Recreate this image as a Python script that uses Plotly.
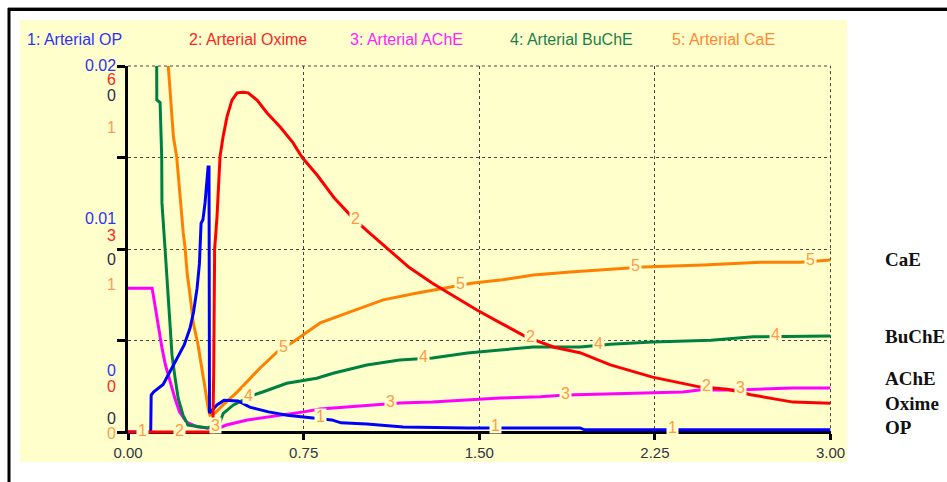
import numpy as np
import plotly.graph_objects as go

W, H = 947, 482

# ---------------- data ----------------
t_op = [0, 0.097, 0.099, 0.11, 0.15, 0.16, 0.19, 0.21, 0.24, 0.265, 0.28, 0.295, 0.305, 0.312,
        0.32, 0.329, 0.333, 0.338, 0.342, 0.346, 0.348, 0.38, 0.41, 0.47, 0.52, 0.60, 0.68, 0.75,
        0.87, 0.91, 1.02, 1.175, 1.45, 1.93, 1.95, 3.0]
op = [0, 0, 0.00202, 0.0022, 0.0026, 0.00284, 0.00356, 0.00404, 0.00476, 0.00568, 0.00656,
      0.00786, 0.0092, 0.0114, 0.0116, 0.01252, 0.01306, 0.01416, 0.01448, 0.01448, 0.00104,
      0.00148, 0.00174, 0.0017, 0.00136, 0.0011, 0.00092, 0.00082, 0.00066, 0.0005, 0.00044,
      0.00028, 0.00022, 0.00022, 0.00012, 0.00012]

t_oxime = [0, 0.362, 0.366, 0.370, 0.380, 0.385, 0.393, 0.406, 0.423, 0.444, 0.466, 0.491, 0.513,
           0.551, 0.594, 0.650, 0.705, 0.744, 0.81, 0.88, 0.96, 1.02, 1.12, 1.20, 1.30, 1.37,
           1.49, 1.59, 1.70, 1.82, 1.93, 2.06, 2.24, 2.44, 2.56, 2.66, 2.84, 3.0]
oxime = [0, 0, 0.98, 3.0, 3.52, 4.01, 4.51, 4.84, 5.17, 5.44, 5.56, 5.57, 5.56, 5.44, 5.23, 5.0,
         4.74, 4.5, 4.2, 3.84, 3.51, 3.3, 2.97, 2.7, 2.44, 2.28, 2.0, 1.79, 1.56, 1.39, 1.3, 1.1,
         0.9, 0.74, 0.7, 0.61, 0.49, 0.47]

t_ache = [0, 0.103, 0.115, 0.13, 0.145, 0.16, 0.18, 0.20, 0.22, 0.25, 0.295, 0.34, 0.39, 0.42,
          0.51, 0.60, 0.75, 0.82, 0.92, 1.02, 1.16, 1.30, 1.45, 1.59, 1.76, 1.87, 2.04, 2.20,
          2.37, 2.44, 2.60, 2.84, 3.0]
ache = [0.393, 0.393, 0.347, 0.284, 0.23, 0.183, 0.137, 0.093, 0.055, 0.027, 0.014, 0.011, 0.011,
        0.019, 0.033, 0.041, 0.055, 0.063, 0.068, 0.074, 0.079, 0.082, 0.087, 0.093, 0.096, 0.101,
        0.104, 0.107, 0.109, 0.115, 0.115, 0.12, 0.12]

t_buche = [0, 0.122, 0.123, 0.137, 0.144, 0.145, 0.158, 0.167, 0.179, 0.188, 0.201, 0.214, 0.235,
           0.256, 0.34, 0.393, 0.407, 0.45, 0.479, 0.536, 0.578, 0.678, 0.806, 0.88, 1.02, 1.16,
           1.30, 1.45, 1.59, 1.73, 1.93, 2.06, 2.24, 2.49, 2.67, 2.84, 3.0]
buche = [2.0, 1.1, 0.907, 0.9, 0.751, 0.626, 0.503, 0.41, 0.292, 0.21, 0.148, 0.093, 0.046, 0.019,
         0.011, 0.028, 0.051, 0.074, 0.083, 0.101, 0.11, 0.133, 0.147, 0.161, 0.183, 0.197, 0.202,
         0.216, 0.224, 0.232, 0.232, 0.24, 0.246, 0.251, 0.26, 0.262, 0.262]

t_cae = [0, 0.170, 0.172, 0.179, 0.187, 0.194, 0.208, 0.215, 0.222, 0.229, 0.236, 0.244, 0.252,
         0.265, 0.278, 0.299, 0.316, 0.329, 0.342, 0.350, 0.372, 0.406, 0.466, 0.509, 0.564,
         0.637, 0.705, 0.765, 0.821, 0.949, 1.09, 1.235, 1.346, 1.474, 1.59, 1.731, 1.889, 2.03,
         2.201, 2.457, 2.701, 2.872, 3.0]
cae = [2.0, 1.1, 1.0, 0.934, 0.88, 0.806, 0.751, 0.697, 0.653, 0.587, 0.544, 0.503, 0.437, 0.374,
       0.301, 0.238, 0.175, 0.12, 0.066, 0.046, 0.052, 0.074, 0.109, 0.137, 0.175, 0.219, 0.246,
       0.273, 0.298, 0.328, 0.361, 0.380, 0.393, 0.407, 0.415, 0.429, 0.437, 0.443, 0.451, 0.456,
       0.464, 0.464, 0.47]

series_names = ["1: Arterial OP", "2: Arterial Oxime", "3: Arterial AChE",
                "4: Arterial BuChE", "5: Arterial CaE"]
right_names = ["CaE", "BuChE", "AChE", "Oxime", "OP"]
x_ticks = [0, 0.75, 1.5, 2.25, 3.0]
x_ticktext = ["0.00", "0.75", "1.50", "2.25", "3.00"]
scale_max = [0.02, 6, 1, 1, 1]
# scale labels per series at top / middle / bottom of the axis
scale_labels_top = ["0.02", "6", "0", "1"]
scale_labels_mid = ["0.01", "3", "0", "1"]
scale_labels_bot = ["0", "0", "0", "0"]
# positions (t) of the curve number labels
label_t = [[0.064, 0.821, 1.569, 2.325],
           [0.222, 0.970, 1.718, 2.470],
           [0.372, 1.120, 1.868, 2.615],
           [0.513, 1.260, 2.010, 2.765],
           [0.662, 1.419, 2.167, 2.915]]

# ---------------- styling ----------------
line_colors = ["#0000FF", "#FF0000", "#FF00FF", "#008040", "#FF8000"]
text_colors = ["#3030FF", "#FF2424", "#FF22FF", "#1A8048", "#FF8833"]
label_color = "#FF9944"
bg_yellow = "#FFFFCC"
SANS = "Liberation Sans, Arial, sans-serif"
SERIF = "Liberation Serif, Times New Roman, serif"

def px(x):
    return x / W

def py(y):
    return 1 - y / H

x_dom = [px(128), px(830.5)]
pad = 0.006
y_dom = [py(432 + pad * 366), py(66)]

series_t = [t_op, t_oxime, t_ache, t_buche, t_cae]
series_v = [op, oxime, ache, buche, cae]
yaxes = ["y2", "y3", "y", "y", "y"]

fig = go.Figure()
for i in range(5):
    fig.add_trace(go.Scatter(
        x=series_t[i], y=series_v[i], yaxis=yaxes[i], mode="lines",
        line=dict(color=line_colors[i], width=3), name=series_names[i],
        hoverinfo="skip"))

dotted = dict(color="#444444", width=1, dash="dot")
shapes = [
    dict(type="rect", xref="paper", yref="paper", x0=px(20), x1=px(847), y0=py(462), y1=py(20),
         fillcolor=bg_yellow, line=dict(width=0), layer="below"),
    dict(type="line", xref="paper", yref="paper", x0=px(8), x1=1, y0=py(7.5), y1=py(7.5),
         line=dict(color="#999999", width=1), layer="below"),
    dict(type="line", xref="paper", yref="paper", x0=px(8), x1=1, y0=py(9.5), y1=py(9.5),
         line=dict(color="black", width=3), layer="below"),
    dict(type="line", xref="paper", yref="paper", x0=px(9), x1=px(9), y0=0, y1=py(8),
         line=dict(color="black", width=3), layer="below"),
    # top and right plot-frame dotted lines
    dict(type="line", xref="x domain", yref="y domain", x0=0, x1=1, y0=1, y1=1,
         line=dotted, layer="below"),
    dict(type="line", xref="x domain", yref="y domain", x0=1, x1=1, y0=0, y1=1,
         line=dotted, layer="below"),
]

annotations = []
# header legend texts
head_x = [25, 187, 348, 508, 670]
for i in range(5):
    annotations.append(dict(xref="paper", yref="paper", x=px(head_x[i]), y=py(39),
                            xanchor="left", yanchor="middle", showarrow=False,
                            text=series_names[i],
                            font=dict(family=SANS, size=16, color=text_colors[i])))

# scale labels left of the axis
lab_cols = [text_colors[0], text_colors[1], "#2B2B50", "#FF9955"]
top_y = [66, 80, 96, 128]
mid_y = [219, 235, 259, 284]
bot_y = [370, 386, 418, 433]
for labels, ys in [(scale_labels_top, top_y), (scale_labels_mid, mid_y), (scale_labels_bot, bot_y)]:
    for k in range(4):
        annotations.append(dict(xref="paper", yref="paper", x=px(117.5), y=py(ys[k]),
                                xanchor="right", yanchor="middle", showarrow=False,
                                text=labels[k],
                                font=dict(family=SANS, size=16, color=lab_cols[k])))

# right-side names
right_y = [259, 336, 378, 403, 427]
for name, yy in zip(right_names, right_y):
    annotations.append(dict(xref="paper", yref="paper", x=px(883), y=py(yy),
                            xanchor="left", yanchor="middle", showarrow=False,
                            text="<b>" + name + "</b>",
                            font=dict(family=SERIF, size=19, color="#111111")))

# curve number labels
for i in range(5):
    for tt in label_t[i]:
        yy = float(np.interp(tt, series_t[i], series_v[i]))
        annotations.append(dict(xref="x", yref=yaxes[i], x=tt, y=yy, yshift=2,
                                showarrow=False, text=str(i + 1),
                                font=dict(family=SANS, size=16, color=label_color),
                                bgcolor=bg_yellow, borderpad=0, width=11, height=15))

grid = dict(showgrid=True, gridcolor="#444444", gridwidth=1, griddash="dot")

fig.update_layout(
    width=W, height=H, autosize=False, margin=dict(l=0, r=0, t=0, b=0, autoexpand=False),
    paper_bgcolor="white", plot_bgcolor="rgba(0,0,0,0)",
    showlegend=False, shapes=shapes, annotations=annotations,
    xaxis=dict(domain=x_dom, range=[0, 3], tickvals=x_ticks, ticktext=x_ticktext,
               ticks="outside", ticklen=6, tickwidth=3, tickcolor="black",
               showline=True, linecolor="black", linewidth=3, zeroline=False,
               anchor="free", position=py(432), layer="below traces", automargin=False,
               tickfont=dict(family=SANS, size=15, color="#333344"), **grid),
    yaxis=dict(domain=y_dom, range=[-pad, 1], tickvals=[0, 0.25, 0.5, 0.75, 1.0],
               showticklabels=False, ticks="outside", ticklen=8, tickwidth=3,
               tickcolor="black", showline=True, linecolor="black", linewidth=3,
               zeroline=False, layer="below traces", automargin=False, **grid),
    yaxis2=dict(overlaying="y", range=[-pad * scale_max[0], scale_max[0]], visible=False),
    yaxis3=dict(overlaying="y", range=[-pad * scale_max[1], scale_max[1]], visible=False),
)

fig.write_html(
    "out.html",
    config={"responsive": False, "displayModeBar": False, "staticPlot": True},
    post_script="document.body.style.margin='0';document.body.style.overflow='hidden';",
)
